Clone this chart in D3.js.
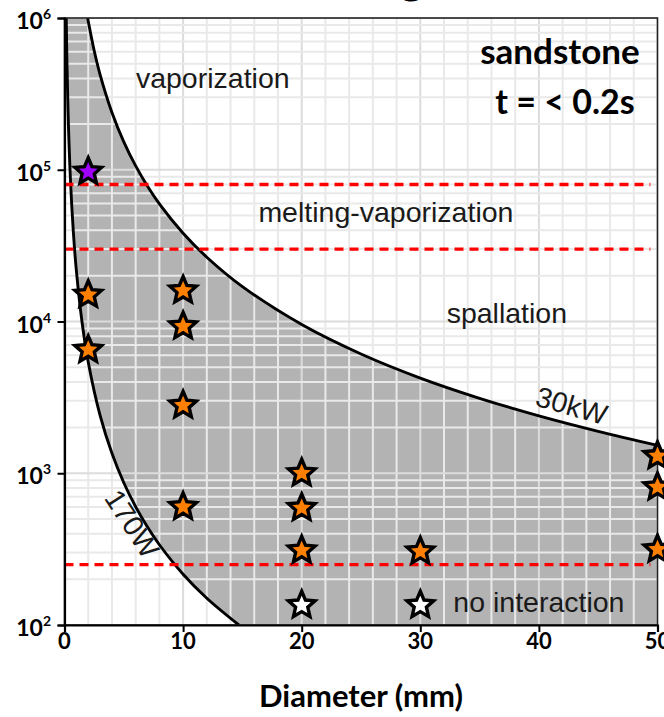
<!DOCTYPE html>
<html><head><meta charset="utf-8">
<script src="https://cdn.jsdelivr.net/npm/d3@7"></script>
<style>body{margin:0;background:#fff} svg{display:block}</style>
</head><body><svg id="c" width="664" height="717"></svg>
<script>
// ---- data ----
const curve170W_d = [0.147,0.2,0.3,0.5,0.75,1,1.5,2,3,4,5,6,7,8,10,12,14.7];
const curve170W_I = [1e6,541000,240500,86580,38480,21645,9620,5411,2405,1353,866,601,442,338,216,150,100];
const curve30kW_d = [1.95,2.5,3,4,5,6,7,8,10,12,15,20,25,30,35,40,45,50];
const curve30kW_I = [1e6,611000,424000,238700,152800,106100,77950,59680,38200,26530,16980,9550,6110,4240,3120,2390,1890,1528];
const dashLevels = [8e4, 3e4, 250];
const orangeD = [2,2,10,10,10,10,20,20,20,30,50,50,50];
const orangeI = [15000,6500,16000,9300,2800,600,1000,590,310,305,1300,810,315];
const purpleD = [2];
const purpleI = [97000];
const whiteD = [20,30];
const whiteI = [135,135];
const xTicks = [0,10,20,30,40,50];
const yTickExp = [2,3,4,5,6];
const regionLabels = ["vaporization","melting-vaporization","spallation","no interaction"];
const curveLabels = ["170W","30kW"];
const titleLines = ["sandstone","t = < 0.2s"];
const xTitle = "Diameter (mm)";

// ---- layout ----
const svg = d3.select("#c");
const L = 64.5, R = 657.5, T = 18, B = 625;
const x = d3.scaleLinear([0,50],[L,R]);
const y = d3.scaleLog([100,1e6],[B,T]);

svg.append("defs").append("clipPath").attr("id","clip")
  .append("rect").attr("x",L).attr("y",T).attr("width",R-L).attr("height",B-T);

// cut-off title glyph at top
svg.append("text").attr("x",412).attr("y",-7).attr("text-anchor","middle")
  .style("font-family","Lato").style("font-weight","bold").style("font-size","46px").text("g");

const plot = svg.append("g").attr("clip-path","url(#clip)");
plot.append("rect").attr("x",L).attr("y",T).attr("width",R-L).attr("height",B-T).attr("fill","#fff");

const line = d3.line().x(d=>x(d[0])).y(d=>y(d[1])).curve(d3.curveCatmullRom.alpha(0.5));
const p170 = d3.zip(curve170W_d, curve170W_I);
const p30 = d3.zip(curve30kW_d, curve30kW_I);
const fillPath = line(p170) + `L${x(50)},${y(100)}L${x(50)},${y(curve30kW_I[curve30kW_I.length-1])}` +
  line(p30.slice().reverse()).replace(/^M/,"L") + "Z";
plot.append("path").attr("d",fillPath).attr("fill","#b3b3b3");

// grid
const vgrid = d3.range(0,51,2);
const hgrid = [];
for (let e=2;e<6;e++) for (let k=1;k<10;k++) hgrid.push(k*Math.pow(10,e));
hgrid.push(1e6);
plot.selectAll(".vg").data(vgrid).enter().append("line")
  .attr("x1",d=>x(d)).attr("x2",d=>x(d)).attr("y1",T).attr("y2",B)
  .attr("stroke",d=>d%10===0?"#dcdcdc":"#e9e9e9").attr("stroke-width",2);
plot.selectAll(".hg").data(hgrid).enter().append("line")
  .attr("y1",d=>y(d)).attr("y2",d=>y(d)).attr("x1",L).attr("x2",R)
  .attr("stroke",d=>Math.abs(Math.log10(d)%1)<1e-9?"#dcdcdc":"#e9e9e9").attr("stroke-width",2);

// curves
plot.append("path").attr("d",line(p170)).attr("fill","none").attr("stroke","#000").attr("stroke-width",2.9);
plot.append("path").attr("d",line(p30)).attr("fill","none").attr("stroke","#000").attr("stroke-width",2.9);

// dashed thresholds
plot.selectAll(".dl").data(dashLevels).enter().append("line")
  .attr("x1",x(0)).attr("x2",x(49.4)).attr("y1",d=>y(d)).attr("y2",d=>y(d))
  .attr("stroke","#ff0000").attr("stroke-width",3.4).attr("stroke-dasharray","9,6");

// frame
svg.append("rect").attr("x",L).attr("y",T).attr("width",R-L).attr("height",B-T)
  .attr("fill","none").attr("stroke","#222").attr("stroke-width",1.6);

// axes
const xAxis = svg.append("g").attr("transform",`translate(0,${B})`)
  .call(d3.axisBottom(x).tickValues(xTicks).tickSize(7).tickFormat(""));
const yAxis = svg.append("g").attr("transform",`translate(${L},0)`)
  .call(d3.axisLeft(y).tickValues(yTickExp.map(e=>Math.pow(10,e))).tickSize(7).tickFormat(""));
[xAxis,yAxis].forEach(a=>{a.select(".domain").attr("stroke","#000").attr("stroke-width",2.2);
  a.selectAll(".tick line").attr("stroke","#000").attr("stroke-width",2);});

svg.selectAll(".xl").data(xTicks).enter().append("text")
  .attr("x",d=>x(d)).attr("y",649).attr("text-anchor","middle")
  .style("font-family","Lato").style("font-weight","bold").style("font-size","22px").text(d=>d);

const yl = svg.selectAll(".yl").data(yTickExp).enter().append("text")
  .attr("x",51).attr("y",e=>y(Math.pow(10,e))+11).attr("text-anchor","end")
  .style("font-family","Lato").style("font-weight","bold").style("font-size","23px");
yl.append("tspan").text("10");
yl.append("tspan").attr("dy",-10).style("font-size","14px").text(e=>e);

svg.append("text").attr("x",361).attr("y",707).attr("text-anchor","middle")
  .style("font-family","Lato").style("font-weight","bold").style("font-size","31px").text(xTitle);

// stars
function starPath(Ro, Ri){
  const pts=[];
  for(let i=0;i<10;i++){const a=-Math.PI/2+i*Math.PI/5;const r=i%2?Ri:Ro;pts.push([r*Math.cos(a),r*Math.sin(a)]);}
  return "M"+pts.map(p=>p[0].toFixed(2)+","+p[1].toFixed(2)).join("L")+"Z";
}
const sp = starPath(14,6.4);
function drawStars(ds, is, fill){
  svg.selectAll(null).data(d3.zip(ds,is)).enter().append("path")
    .attr("d",sp).attr("transform",d=>`translate(${x(d[0])},${y(d[1])})`)
    .attr("fill",fill).attr("stroke","#000").attr("stroke-width",3.4).attr("stroke-linejoin","miter");
}
drawStars(orangeD, orangeI, "#ff8000");
drawStars(purpleD, purpleI, "#a000ff");
drawStars(whiteD, whiteI, "#ffffff");

// region labels
const lblPos = [[12.5,3.9e5],[27.1,5.05e4],[37.3,1.1e4],[40,136]];
const lblFont = s=>s.style("font-family","Liberation Sans, Arial").style("font-size","28.5px").attr("fill","#1a1a1a");
svg.selectAll(".rl").data(regionLabels).enter().append("text")
  .attr("x",(d,i)=>x(lblPos[i][0])).attr("y",(d,i)=>y(lblPos[i][1])).attr("text-anchor","middle")
  .attr("dominant-baseline","middle").call(lblFont).text(d=>d);

// curve labels
svg.append("text").attr("transform",`translate(130,525) rotate(57)`).attr("text-anchor","middle")
  .attr("dominant-baseline","middle").call(lblFont).text(curveLabels[0]);
svg.append("text").attr("transform",`translate(571,408) rotate(16)`).attr("text-anchor","middle")
  .attr("dominant-baseline","middle").call(lblFont).text(curveLabels[1]);

// title
svg.append("text").attr("x",560).attr("y",64).attr("text-anchor","middle")
  .style("font-family","Lato").style("font-weight","bold").style("font-size","35px").text(titleLines[0]);
svg.append("text").attr("x",565).attr("y",114).attr("text-anchor","middle")
  .style("font-family","Lato").style("font-weight","bold").style("font-size","34px").text(titleLines[1]);
</script></body></html>
